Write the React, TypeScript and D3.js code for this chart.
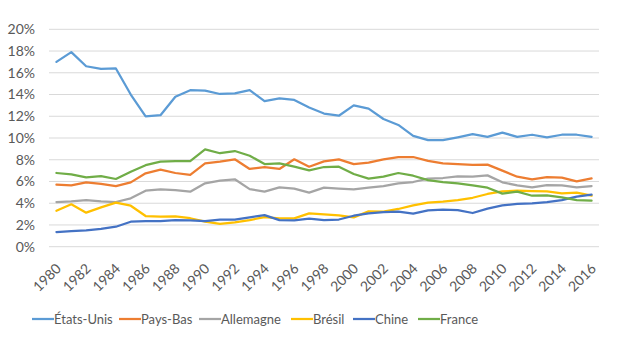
import React from "react";
import * as d3 from "d3";

const years: number[] = d3.range(1980, 2017);
const tickYears: number[] = d3.range(1980, 2017, 2);
const yTicks: number[] = [0, 2, 4, 6, 8, 10, 12, 14, 16, 18, 20];

const etatsUnis = [17.0, 17.9, 16.6, 16.35, 16.4, 14.0, 12.0, 12.1, 13.8, 14.4, 14.35, 14.05, 14.1, 14.4, 13.4, 13.65, 13.5, 12.8, 12.25, 12.05, 13.0, 12.7, 11.75, 11.2, 10.2, 9.8, 9.8, 10.06, 10.35, 10.1, 10.5, 10.1, 10.3, 10.06, 10.3, 10.3, 10.1];
const paysBas = [5.7, 5.64, 5.92, 5.77, 5.58, 5.92, 6.75, 7.09, 6.78, 6.6, 7.67, 7.82, 8.04, 7.15, 7.33, 7.15, 8.04, 7.36, 7.85, 8.04, 7.6, 7.73, 8.04, 8.25, 8.25, 7.9, 7.67, 7.6, 7.52, 7.55, 7.0, 6.44, 6.2, 6.41, 6.35, 6.01, 6.29];
const allemagne = [4.11, 4.17, 4.29, 4.17, 4.11, 4.45, 5.15, 5.28, 5.21, 5.06, 5.83, 6.07, 6.2, 5.3, 5.06, 5.46, 5.34, 4.97, 5.43, 5.34, 5.28, 5.43, 5.58, 5.83, 5.95, 6.26, 6.32, 6.47, 6.45, 6.56, 5.92, 5.64, 5.46, 5.67, 5.64, 5.46, 5.58];
const bresil = [3.31, 3.9, 3.13, 3.62, 4.05, 3.77, 2.82, 2.76, 2.79, 2.62, 2.3, 2.09, 2.24, 2.45, 2.73, 2.6, 2.6, 3.07, 2.98, 2.88, 2.7, 3.25, 3.22, 3.47, 3.8, 4.05, 4.14, 4.29, 4.5, 4.85, 5.09, 5.15, 5.12, 5.09, 4.9, 4.97, 4.69];
const chine = [1.35, 1.44, 1.5, 1.63, 1.84, 2.3, 2.36, 2.36, 2.45, 2.42, 2.36, 2.5, 2.5, 2.7, 2.91, 2.45, 2.42, 2.58, 2.45, 2.5, 2.85, 3.07, 3.19, 3.22, 3.04, 3.34, 3.4, 3.37, 3.1, 3.5, 3.8, 3.93, 3.99, 4.11, 4.29, 4.6, 4.79];
const france = [6.78, 6.66, 6.38, 6.5, 6.23, 6.9, 7.5, 7.82, 7.88, 7.88, 8.96, 8.6, 8.8, 8.37, 7.6, 7.67, 7.36, 7.02, 7.33, 7.36, 6.69, 6.26, 6.44, 6.78, 6.53, 6.13, 5.95, 5.83, 5.65, 5.43, 4.88, 5.06, 4.69, 4.72, 4.54, 4.29, 4.23];

const seriesNames = ["États-Unis", "Pays-Bas", "Allemagne", "Brésil", "Chine", "France"];
const seriesValues = [etatsUnis, paysBas, allemagne, bresil, chine, france];
const seriesColors = ["#5B9BD5", "#ED7D31", "#A5A5A5", "#FFC000", "#4472C4", "#70AD47"];

const W = 636;
const H = 344;
const FONT = "Lato, 'Open Sans', sans-serif";

export default function App() {
  const x = d3.scaleBand<number>().domain(years).range([49, 599]);
  const y = d3.scaleLinear().domain([0, 20]).range([246.7, 29.3]);
  const cx = (yr: number) => (x(yr) as number) + x.bandwidth() / 2;
  const line = d3
    .line<number>()
    .x((_, i) => cx(years[i]))
    .y((v) => y(v));

  const legendX = [32, 119, 199, 291, 353, 418];
  const legendY = 319;

  return (
    <svg width={W} height={H} style={{ position: "absolute", left: 0, top: 0, background: "#fff" }} fontFamily={FONT}>
      {yTicks.map((t) => (
        <g key={t}>
          <line x1={49} x2={599} y1={y(t)} y2={y(t)} stroke="#D9D9D9" strokeWidth={1} />
          <text x={35} y={y(t)} dy="0.35em" textAnchor="end" fontSize={14} fill="#595959">
            {t}%
          </text>
        </g>
      ))}
      {tickYears.map((yr) => (
        <text
          key={yr}
          transform={`translate(${cx(yr) + 2},${266}) rotate(-45)`}
          textAnchor="end"
          dy="0.35em"
          fontSize={14}
          fill="#595959"
        >
          {yr}
        </text>
      ))}
      {seriesValues.map((vals, i) => (
        <path
          key={seriesNames[i]}
          d={line(vals) as string}
          fill="none"
          stroke={seriesColors[i]}
          strokeWidth={2.25}
          strokeLinejoin="round"
          strokeLinecap="round"
        />
      ))}
      {seriesNames.map((name, i) => (
        <g key={name} transform={`translate(${legendX[i]},${legendY})`}>
          <line x1={0} x2={22} y1={0} y2={0} stroke={seriesColors[i]} strokeWidth={2.25} />
          <text x={22} y={0} dy="0.35em" fontSize={13} fill="#595959">
            {name}
          </text>
        </g>
      ))}
    </svg>
  );
}
